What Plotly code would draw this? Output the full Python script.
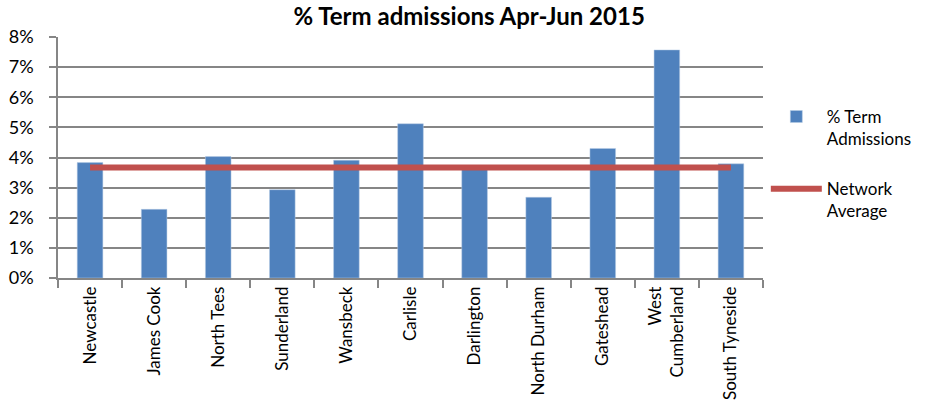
import plotly.graph_objects as go

categories = ["Newcastle", "James Cook", "North Tees", "Sunderland", "Wansbeck", "Carlisle",
              "Darlington", "North Durham", "Gateshead", "West<br>Cumberland", "South Tyneside"]
term_pct = [3.83, 2.28, 4.03, 2.93, 3.91, 5.12, 3.62, 2.68, 4.30, 7.57, 3.79]
network_avg = [3.67] * len(categories)
y_ticks = [0, 1, 2, 3, 4, 5, 6, 7, 8]
y_tick_labels = [f"{v}%" for v in y_ticks]

FONT = "Lato"

fig = go.Figure()
fig.add_trace(go.Bar(
    x=categories, y=term_pct, name="% Term<br>Admissions",
    marker=dict(color="#4F81BD", line=dict(color="#B9CDE5", width=0.5)),
    legendgroup="a",
))
fig.add_trace(go.Scatter(
    x=categories, y=network_avg, name="Network<br>Average", mode="lines",
    line=dict(color="#C0504D", width=6), legendgroup="b",
))

fig.update_layout(
    width=929, height=407,
    margin=dict(l=58, r=163, t=37, b=129),
    paper_bgcolor="white", plot_bgcolor="white",
    font=dict(family=FONT, size=16, color="black"),
    title=dict(text="<b>% Term admissions Apr-Jun 2015</b>", x=0.505, xanchor="center",
               y=0.958, yanchor="middle", font=dict(family=FONT, size=24)),
    bargap=0.6,
    showlegend=True,
    legend=dict(x=1.004, xanchor="left", y=0.743, yanchor="top", traceorder="grouped",
                tracegroupgap=25, itemwidth=51, font=dict(size=17), valign="top"),
)
fig.update_xaxes(
    type="category", showline=True, linecolor="#868686", linewidth=1.5,
    ticks="outside", tickson="boundaries", ticklen=8, tickcolor="#868686", tickwidth=1.5,
    tickangle=-90, showgrid=False, tickfont=dict(size=17), automargin=False,
)
fig.update_yaxes(
    range=[0, 8], tickvals=y_ticks, ticktext=y_tick_labels,
    showline=True, linecolor="#868686", linewidth=1.5,
    showgrid=True, gridcolor="#868686", gridwidth=1.5,
    ticks="outside", ticklen=7, tickcolor="#868686", tickwidth=1.5,
    tickfont=dict(size=18), zeroline=False, ticklabelstandoff=12, automargin=False,
)

fig.write_html("out.html", config={"displayModeBar": False},
               post_script="document.body.style.margin='0';")
